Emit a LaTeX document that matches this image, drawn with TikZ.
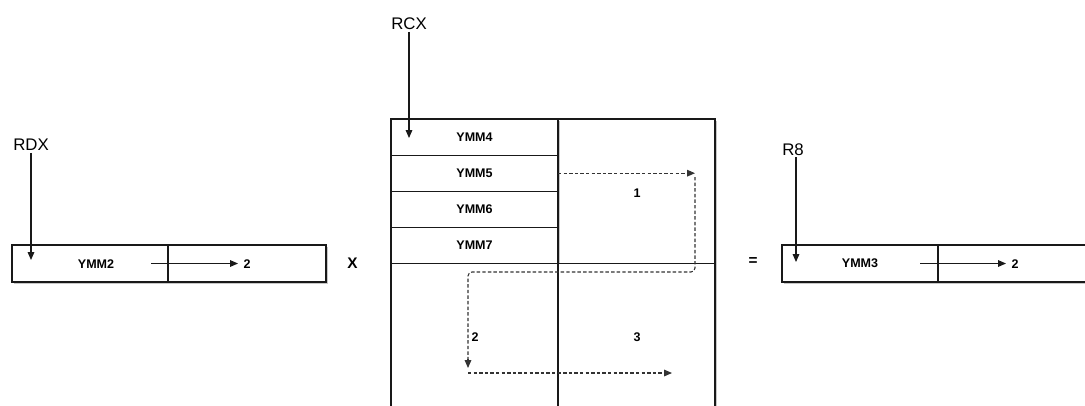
\documentclass[tikz,border=0pt]{standalone}
\usepackage{fontspec}
\setmainfont{Liberation Sans}
\usetikzlibrary{arrows.meta,shadows}
\begin{document}
\begin{tikzpicture}[x=0.75pt,y=-0.75pt,
  line width=0.8pt,
  cell/.style={draw=black!90, fill=white, rectangle, inner sep=0pt, outer sep=0pt,
    font=\fontsize{9.4}{10}\selectfont\bfseries,
    drop shadow={shadow xshift=1.2pt, shadow yshift=-1.2pt, opacity=0.22, fill=black}},
  reglabel/.style={inner sep=0pt, font=\fontsize{12.6}{14}\selectfont},
  numlabel/.style={inner sep=0pt, font=\fontsize{9.4}{10}\selectfont\bfseries},
  oplabel/.style={inner sep=0pt, font=\fontsize{11.5}{13}\selectfont\bfseries},
  arr/.style={draw=black!90, -{Triangle[length=6pt,width=5pt]}},
  darr/.style={draw=black!80, dash pattern=on 2.6pt off 1.6pt, -{Triangle[length=6pt,width=5pt]}},
  dline/.style={draw=black!80, dash pattern=on 2.6pt off 1.6pt, rounded corners=3pt}]
\useasboundingbox (0,0) rectangle (1085,405);

% left box
\node[cell, minimum width=117pt, minimum height=27.75pt] (ymm2) at (90,263.5) {};
\node[numlabel] (ymm2t) at (96,264) {YMM2};
\node[cell, minimum width=118.5pt, minimum height=27.75pt] (lr) at (247,263.5) {};
\node[numlabel] (l2) at (247,264) {2};
\coordinate (l2s) at (151,263.5);
\coordinate (l2e) at (238,263.5);
\draw[arr] (l2s) -- (l2e);

\node[reglabel] (rdx) at (31,144.5) {RDX};
\coordinate (rdxe) at (31,260);
\draw[arr] (rdx.south) ++(0,2) -- (rdxe);

\node[oplabel] (times) at (352.5,263) {X};

% middle grid
\node[cell, minimum width=117.75pt, minimum height=108.4pt] (ur) at (636.5,191.25) {};
\node[cell, minimum width=125.25pt, minimum height=27.1pt] (ymm4) at (474.5,137.06) {YMM4};
\node[cell, minimum width=125.25pt, minimum height=27.1pt] (ymm5) at (474.5,173.19) {YMM5};
\node[cell, minimum width=125.25pt, minimum height=27.1pt] (ymm6) at (474.5,209.31) {YMM6};
\node[cell, minimum width=125.25pt, minimum height=27.1pt] (ymm7) at (474.5,245.44) {YMM7};
\node[cell, minimum width=125.25pt, minimum height=124.9pt] (ll) at (474.5,346.75) {};
\node[cell, minimum width=117.75pt, minimum height=124.9pt] (lrr) at (636.5,346.75) {};

\node[reglabel] (rcx) at (409,23.5) {RCX};
\coordinate (rcxe) at (409,138);
\draw[arr] (rcx.south) ++(0,2) -- (rcxe);

\node[numlabel] (n1) at (637,193) {1};
\node[numlabel] (n2) at (475,337) {2};
\node[numlabel] (n3) at (637,337) {3};

\coordinate (d1e) at (695,173.19);
\coordinate (d2s) at (695,177);
\coordinate (d2e) at (468,368);
\coordinate (d3s) at (468,373);
\coordinate (d3e) at (672,373);
\draw[darr] (ymm5.east) -- (d1e);
\draw[dline] (d2s) -- (695,272) -- (468,272) -- (468,360);
\draw[darr] (468,359) -- (d2e);
\draw[darr] (d3s) -- (d3e);

\node[oplabel] (eq) at (753,262) {=};

% right box
\node[cell, minimum width=117pt, minimum height=27.75pt] (ymm3) at (860,263.5) {YMM3};
\node[cell, minimum width=118.5pt, minimum height=27.75pt] (rr) at (1017,263.5) {};
\node[numlabel] (r2) at (1015,264) {2};
\coordinate (r2s) at (920,263.5);
\coordinate (r2e) at (1006,263.5);
\draw[arr] (r2s) -- (r2e);

\node[reglabel] (r8) at (793,150) {R8};
\coordinate (r8e) at (796,262);
\draw[arr] (796,157) -- (r8e);
\end{tikzpicture}
\end{document}
